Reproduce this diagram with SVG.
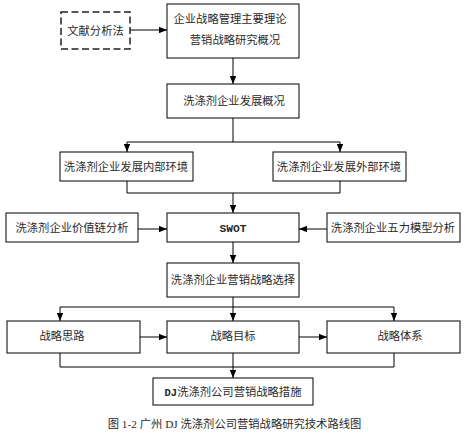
<svg xmlns="http://www.w3.org/2000/svg" width="465" height="442" viewBox="0 0 465 442">
<style>
.b{fill:#fff;stroke:#000;stroke-width:1}
.d{fill:#fff;stroke:#222;stroke-width:1.5;stroke-dasharray:7,3.5}
.t{font-family:"Liberation Serif","Noto Sans CJK SC",serif;font-size:11.3px;fill:#2a2a2a;text-anchor:middle}
.m{font-family:"Liberation Mono","DejaVu Sans Mono","Noto Sans CJK SC",monospace;font-weight:bold}
.c{stroke:#000;stroke-width:1;fill:none}
</style>
<defs>
<marker id="a" viewBox="0 0 10 8" refX="10" refY="4" markerWidth="8" markerHeight="6.4" markerUnits="userSpaceOnUse" orient="auto">
<path d="M0,0L10,4L0,8z" fill="#000"/>
</marker>
</defs>
<rect width="465" height="442" fill="#fff"/>
<g id="connectors">
<path class="c" d="M130,30H167" marker-end="url(#a)"/>
<path class="c" d="M233,58V84" marker-end="url(#a)"/>
<path class="c" d="M233,118V142"/>
<path class="c" d="M127,142H340"/>
<path class="c" d="M127,142V152" marker-end="url(#a)"/>
<path class="c" d="M340,142V152" marker-end="url(#a)"/>
<path class="c" d="M127,181V193H340V181"/>
<path class="c" d="M233,193V213" marker-end="url(#a)"/>
<path class="c" d="M138,229H167" marker-end="url(#a)"/>
<path class="c" d="M327,229H299" marker-end="url(#a)"/>
<path class="c" d="M233,242V263" marker-end="url(#a)"/>
<path class="c" d="M233,297V307"/>
<path class="c" d="M60,307H394"/>
<path class="c" d="M60,307V321" marker-end="url(#a)"/>
<path class="c" d="M233,307V321" marker-end="url(#a)"/>
<path class="c" d="M394,307V321" marker-end="url(#a)"/>
<path class="c" d="M140,337H167" marker-end="url(#a)"/>
<path class="c" d="M299,337H327" marker-end="url(#a)"/>
<path class="c" d="M60,353V367H394V353"/>
<path class="c" d="M233,353V378" marker-end="url(#a)"/>
</g>
<g id="n_wenxian"><rect class="d" x="61" y="12" width="69" height="37"/><text class="t" x="95.5" y="34.5">文献分析法</text></g>
<g id="n_lilun"><rect class="b" x="167" y="4" width="132" height="54"/><text class="t" x="230" y="23">企业战略管理主要理论</text><text class="t" x="235" y="44">营销战略研究概况</text></g>
<g id="n_gaikuang"><rect class="b" x="167" y="84" width="132" height="34"/><text class="t" x="234" y="105">洗涤剂企业发展概况</text></g>
<g id="n_neibu"><rect class="b" x="60" y="152" width="133" height="29"/><text class="t" x="126" y="170.5">洗涤剂企业发展内部环境</text></g>
<g id="n_waibu"><rect class="b" x="273" y="152" width="133" height="29"/><text class="t" x="339" y="170.5">洗涤剂企业发展外部环境</text></g>
<g id="n_jiazhi"><rect class="b" x="6" y="213" width="132" height="29"/><text class="t" x="72" y="231.5">洗涤剂企业价值链分析</text></g>
<g id="n_swot"><rect class="b" x="167" y="213" width="132" height="29"/><text class="t m" x="233" y="231.5" font-size="10">SWOT</text></g>
<g id="n_wuli"><rect class="b" x="327" y="213" width="133" height="29"/><text class="t" x="393" y="231.5">洗涤剂企业五力模型分析</text></g>
<g id="n_xuanze"><rect class="b" x="167" y="263" width="132" height="34"/><text class="t" x="233" y="284">洗涤剂企业营销战略选择</text></g>
<g id="n_silu"><rect class="b" x="7" y="321" width="133" height="32"/><text class="t" x="62" y="340">战略思路</text></g>
<g id="n_mubiao"><rect class="b" x="167" y="321" width="132" height="32"/><text class="t" x="233" y="340">战略目标</text></g>
<g id="n_tixi"><rect class="b" x="327" y="321" width="133" height="32"/><text class="t" x="400" y="340">战略体系</text></g>
<g id="n_cuoshi"><rect class="b" x="153" y="378" width="160" height="27"/><text class="t" x="233" y="395.5"><tspan class="m" font-size="10.5">DJ</tspan>洗涤剂公司营销战略措施</text></g>
<text class="t" x="234.5" y="428" font-size="12.3">图 1-2 广州 DJ 洗涤剂公司营销战略研究技术路线图</text>
</svg>
